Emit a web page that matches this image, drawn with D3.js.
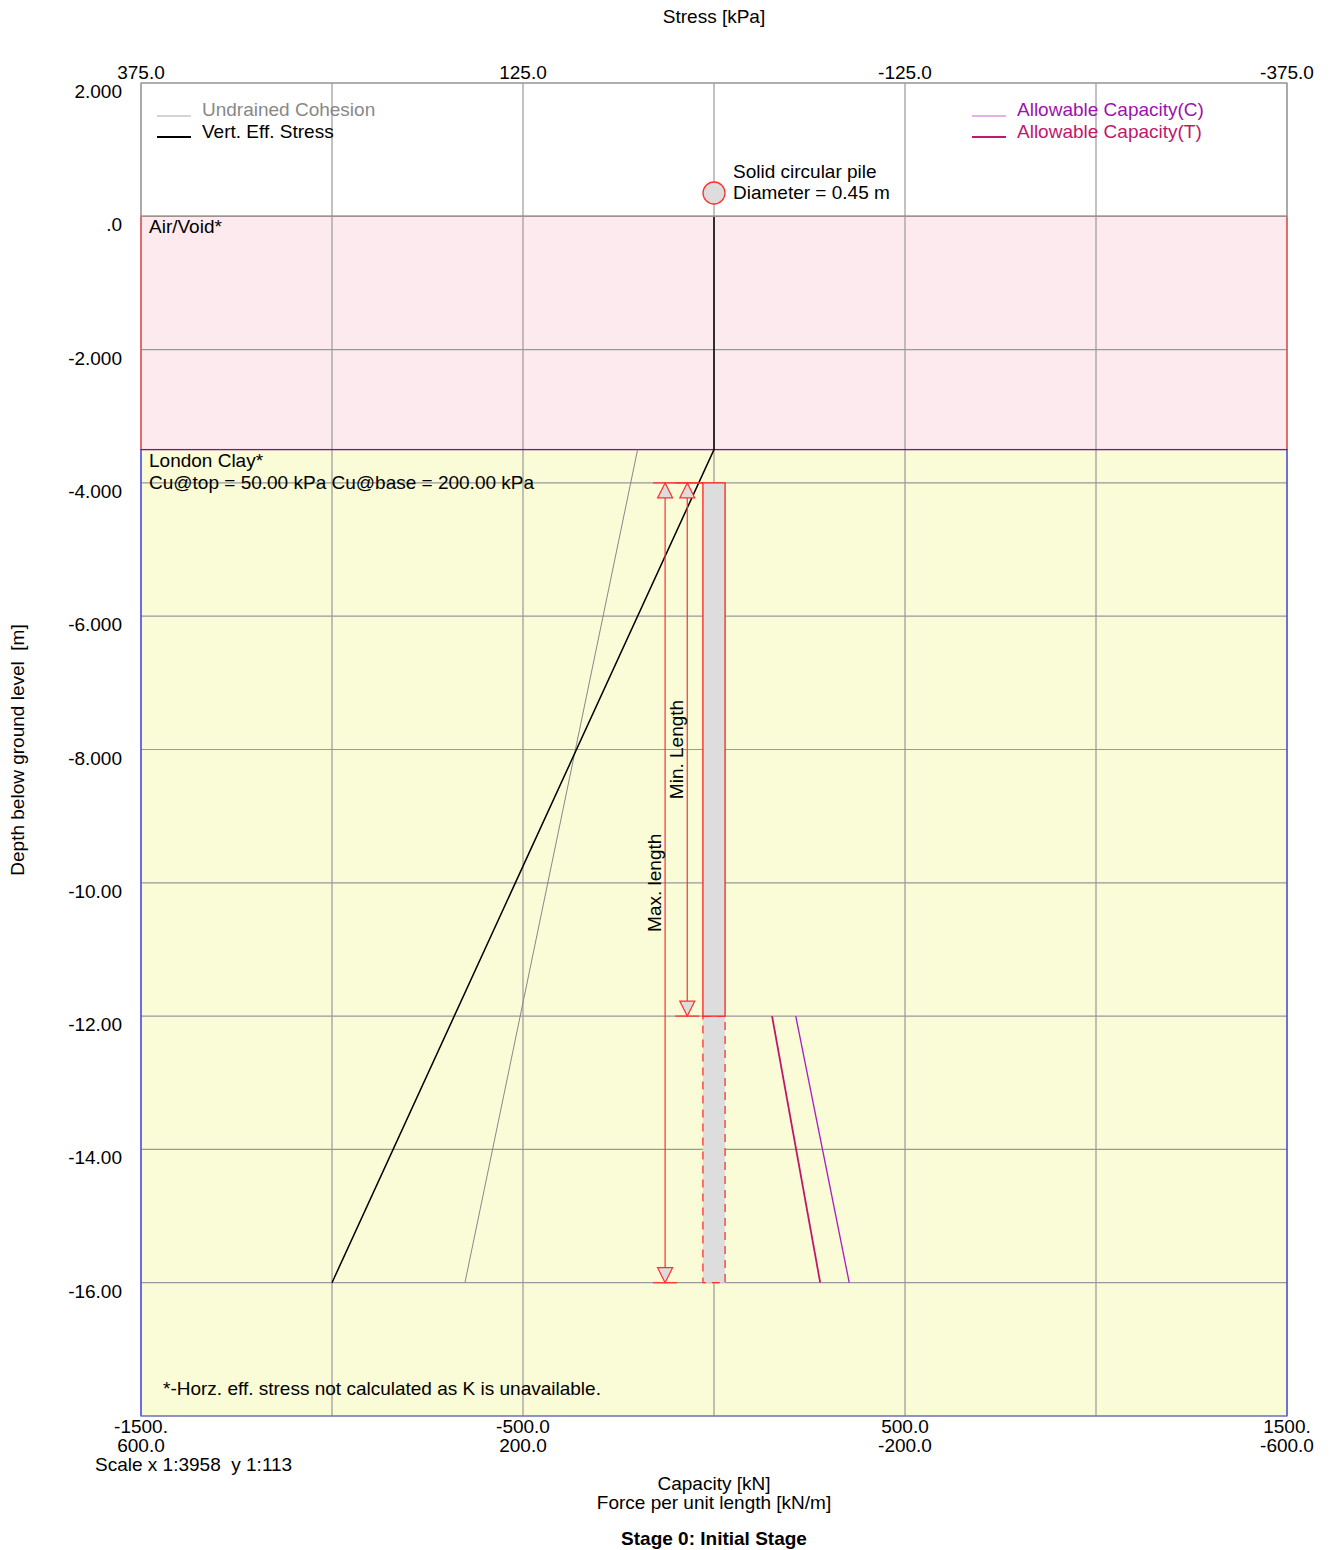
<!DOCTYPE html>
<html>
<head>
<meta charset="utf-8">
<script src="https://cdn.jsdelivr.net/npm/d3@7"></script>
<style>
  body { margin: 0; background: #fff; }
  svg text { font-family: "Liberation Sans", Arial, sans-serif; font-size: 19px; fill: #000; white-space: pre; }
</style>
</head>
<body>
<svg id="chart" width="1330" height="1550"></svg>
<script>
// tick values
const depthTicks = [2, 0, -2, -4, -6, -8, -10, -12, -14, -16];
const depthLabels = ["2.000", ".0", "-2.000", "-4.000", "-6.000", "-8.000", "-10.00", "-12.00", "-14.00", "-16.00"];
const capGrid = [-1500, -1000, -500, 0, 500, 1000, 1500];
const capLabelVals = [-1500, -500, 500, 1500];
const capLabels = ["-1500.", "-500.0", "500.0", "1500."];
const forceLabels = ["600.0", "200.0", "-200.0", "-600.0"];
const stressLabelVals = [375, 125, -125, -375];
const stressLabels = ["375.0", "125.0", "-125.0", "-375.0"];

// soil layers (top, bottom depth)
const layerNames = ["Air/Void*", "London Clay*"];
const layerTops = [0, -3.5];
const layerBottoms = [-3.5, -18];

// stress profiles (kPa)
const vesDepth = [0, -3.5, -16];
const vesValue = [0, 0, 250];
const cuDepth = [-3.5, -16];
const cuValue = [50, 163];

// allowable capacity (kN)
const capDepth = [-12, -16];
const capC = [214, 354];
const capT = [152, 278];

// pile
const pileTop = -4, pileMinToe = -12, pileMaxToe = -16;
const pileHalf = 29; // drawn half width in capacity units

const svg = d3.select("#chart");
const margin = {left: 141, right: 43, top: 83, bottom: 134};
const W = 1330, H = 1550;

const x = d3.scaleLinear().domain([-1500, 1500]).range([margin.left, W - margin.right]);
const xs = d3.scaleLinear().domain([375, -375]).range([margin.left, W - margin.right]);
const y = d3.scaleLinear().domain([2, -18]).range([margin.top, H - margin.bottom]);

// layers
const layerFill = ["#fdeaee", "#fafbd7"];
const layerStroke = ["#ff2020", "#2020ff"];
svg.selectAll("rect.layer").data(layerNames).enter().append("rect")
  .attr("class", "layer")
  .attr("x", x(-1500)).attr("width", x(1500) - x(-1500))
  .attr("y", (d, i) => y(layerTops[i]))
  .attr("height", (d, i) => y(layerBottoms[i]) - y(layerTops[i]))
  .attr("fill", (d, i) => layerFill[i]);

// grid
const grid = svg.append("g").attr("stroke", "#999").attr("stroke-width", 1.2);
grid.selectAll("line.v").data(capGrid).enter().append("line")
  .attr("x1", d => x(d)).attr("x2", d => x(d))
  .attr("y1", y(2)).attr("y2", y(-18));
grid.selectAll("line.h").data(depthTicks).enter().append("line")
  .attr("x1", x(-1500)).attr("x2", x(1500))
  .attr("y1", d => y(d)).attr("y2", d => y(d));

// layer borders
svg.selectAll("rect.lb").data(layerNames).enter().append("rect")
  .attr("x", x(-1500)).attr("width", x(1500) - x(-1500))
  .attr("y", (d, i) => y(layerTops[i]))
  .attr("height", (d, i) => y(layerBottoms[i]) - y(layerTops[i]))
  .attr("fill", "none")
  .attr("stroke", (d, i) => layerStroke[i]).attr("stroke-width", 1.2).attr("stroke-opacity", 0.85);
svg.append("line").attr("x1", x(-1500)).attr("x2", x(1500)).attr("y1", y(-18)).attr("y2", y(-18))
  .attr("stroke", "#999").attr("stroke-width", 1.2);

// layer labels
svg.append("text").attr("x", 149).attr("y", y(0) + 17).text(layerNames[0]);
svg.append("text").attr("x", 149).attr("y", y(-3.5) + 17).text(layerNames[1]);
svg.append("text").attr("x", 149).attr("y", y(-3.5) + 39).text("Cu@top = 50.00 kPa Cu@base = 200.00 kPa");

// axis labels
svg.selectAll("text.dl").data(depthTicks).enter().append("text")
  .attr("x", 122).attr("y", d => y(d) + 15).attr("text-anchor", "end")
  .text((d, i) => depthLabels[i]);
svg.selectAll("text.sl").data(stressLabelVals).enter().append("text")
  .attr("x", d => xs(d)).attr("y", 79).attr("text-anchor", "middle")
  .text((d, i) => stressLabels[i]);
svg.selectAll("text.cl").data(capLabelVals).enter().append("text")
  .attr("x", d => x(d)).attr("y", 1433).attr("text-anchor", "middle")
  .text((d, i) => capLabels[i]);
svg.selectAll("text.fl").data(capLabelVals).enter().append("text")
  .attr("x", d => x(d)).attr("y", 1452).attr("text-anchor", "middle")
  .text((d, i) => forceLabels[i]);

svg.append("text").attr("x", 714).attr("y", 23).attr("text-anchor", "middle").text("Stress [kPa]");
svg.append("text").attr("x", 95).attr("y", 1471).text("Scale x 1:3958  y 1:113");
svg.append("text").attr("x", 714).attr("y", 1490).attr("text-anchor", "middle").text("Capacity [kN]");
svg.append("text").attr("x", 714).attr("y", 1509).attr("text-anchor", "middle").text("Force per unit length [kN/m]");
svg.append("text").attr("x", 714).attr("y", 1545).attr("text-anchor", "middle")
  .attr("font-weight", "bold").text("Stage 0: Initial Stage");
svg.append("text").attr("transform", "translate(24,750) rotate(-90)").attr("text-anchor", "middle")
  .text("Depth below ground level  [m]");
svg.append("text").attr("x", 163).attr("y", 1395).text("*-Horz. eff. stress not calculated as K is unavailable.");

// profiles
const line = d3.line();
svg.append("path")
  .attr("d", line(cuDepth.map((d, i) => [xs(cuValue[i]), y(d)])))
  .attr("fill", "none").attr("stroke", "#888").attr("stroke-width", 1);
svg.append("path")
  .attr("d", line(vesDepth.map((d, i) => [xs(vesValue[i]), y(d)])))
  .attr("fill", "none").attr("stroke", "#000").attr("stroke-width", 1.5);
svg.append("path")
  .attr("d", line(capDepth.map((d, i) => [x(capC[i]), y(d)])))
  .attr("fill", "none").attr("stroke", "#a81cc0").attr("stroke-width", 1.3);
svg.append("path")
  .attr("d", line(capDepth.map((d, i) => [x(capT[i]), y(d)])))
  .attr("fill", "none").attr("stroke", "#c0186c").attr("stroke-width", 1.8);

// pile
svg.append("rect")
  .attr("x", x(-pileHalf)).attr("width", x(pileHalf) - x(-pileHalf))
  .attr("y", y(pileMinToe)).attr("height", y(pileMaxToe) - y(pileMinToe))
  .attr("fill", "#dddddd").attr("stroke", "#ff3030").attr("stroke-width", 1.3)
  .attr("stroke-dasharray", "8,6");
svg.append("rect")
  .attr("x", x(-pileHalf)).attr("width", x(pileHalf) - x(-pileHalf))
  .attr("y", y(pileTop)).attr("height", y(pileMinToe) - y(pileTop))
  .attr("fill", "#dddddd").attr("stroke", "#ff2020").attr("stroke-width", 1.3);

// pile head symbol
svg.append("circle").attr("cx", x(0)).attr("cy", 193).attr("r", 11)
  .attr("fill", "#dddddd").attr("stroke", "#ff3030").attr("stroke-width", 1.3);
svg.append("text").attr("x", 733).attr("y", 178).text("Solid circular pile");
svg.append("text").attr("x", 733).attr("y", 199).text("Diameter = 0.45 m");

// dimension arrows
function dimArrow(cx, d0, d1, label) {
  const g = svg.append("g").attr("stroke", "#ff3030").attr("stroke-width", 1.2);
  const y0 = y(d0), y1 = y(d1);
  g.append("line").attr("x1", cx).attr("x2", cx).attr("y1", y0).attr("y2", y1);
  g.append("line").attr("x1", cx - 12).attr("x2", x(-pileHalf)).attr("y1", y0).attr("y2", y0);
  g.append("line").attr("x1", cx - 12).attr("x2", cx + 12).attr("y1", y1).attr("y2", y1);
  g.append("path").attr("d", `M${cx},${y0}L${cx - 7.5},${y0 + 15}L${cx + 7.5},${y0 + 15}Z`).attr("fill", "#dddddd");
  g.append("path").attr("d", `M${cx},${y1}L${cx - 7.5},${y1 - 15}L${cx + 7.5},${y1 - 15}Z`).attr("fill", "#dddddd");
  svg.append("text").attr("transform", `translate(${cx - 4},${(y0 + y1) / 2}) rotate(-90)`)
    .attr("text-anchor", "middle").text(label);
}
dimArrow(x(-128), pileTop, pileMaxToe, "Max. length");
dimArrow(x(-70), pileTop, pileMinToe, "Min. Length");

// plot frame top part
svg.append("rect").attr("x", x(-1500)).attr("y", y(2)).attr("width", x(1500) - x(-1500))
  .attr("height", y(0) - y(2)).attr("fill", "none").attr("stroke", "#999").attr("stroke-width", 1.2);

// legends
const legL = [["Undrained Cohesion", "#aaa", "#888"], ["Vert. Eff. Stress", "#000", "#000"]];
const legR = [["Allowable Capacity(C)", "#cc66cc", "#a010b0"], ["Allowable Capacity(T)", "#c0186c", "#c0186c"]];
function legend(items, lx, tx) {
  items.forEach((it, i) => {
    svg.append("line").attr("x1", lx).attr("x2", lx + 34).attr("y1", 116 + i * 21).attr("y2", 116 + i * 21)
      .attr("stroke", it[1]).attr("stroke-width", i === 0 ? 1.2 : 1.8);
    svg.append("text").attr("x", tx).attr("y", 116 + i * 22).style("fill", it[2]).text(it[0]);
  });
}
legend(legL, 157, 202);
legend(legR, 972, 1017);
</script>
</body>
</html>
